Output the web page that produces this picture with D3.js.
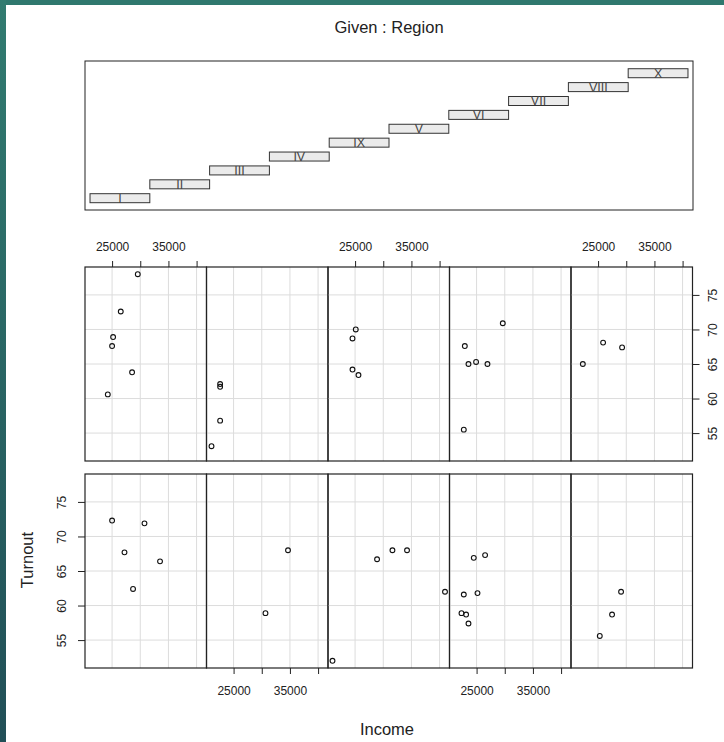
<!DOCTYPE html>
<html>
<head>
<meta charset="utf-8">
<script src="https://cdn.jsdelivr.net/npm/d3@7"></script>
<style>
  body { margin: 0; background: #fff; }
  svg { display: block; }
  text { font-family: "Liberation Sans", Arial, sans-serif; fill: #222; }
</style>
</head>
<body>
<script>
// factor levels, in the (alphabetical) order coplot uses them
const levels = ["I", "II", "III", "IV", "IX", "V", "VI", "VII", "VIII", "X"];

// one entry per observation
const region = [
  "I", "I", "I", "I", "I",
  "II", "II",
  "III", "III", "III", "III", "III",
  "IV", "IV", "IV", "IV", "IV", "IV", "IV",
  "IX", "IX", "IX",
  "V", "V", "V", "V", "V", "V",
  "VI", "VI", "VI", "VI",
  "VII", "VII", "VII", "VII",
  "VIII", "VIII", "VIII", "VIII", "VIII", "VIII",
  "X", "X", "X"
];
const income = [
  25000, 27200, 28720, 30750, 33510,
  30660, 34660,
  20990, 28900, 31630, 34220, 40960,
  22730, 25160, 24500, 26510, 22320, 23140, 23560,
  29080, 27480, 25300,
  29560, 26540, 25180, 25000, 28550, 24240,
  22610, 22610, 22610, 21080,
  25120, 24540, 24540, 25600,
  29650, 22910, 23560, 24910, 26930, 22730,
  25890, 29260, 22290
];
const turnout = [
  72.3, 67.7, 62.4, 71.9, 66.4,
  58.9, 68.0,
  52.0, 66.7, 68.0, 68.0, 62.0,
  61.6, 61.8, 66.9, 67.3, 58.9, 58.7, 57.4,
  62.0, 58.7, 55.6,
  78.0, 72.6, 68.9, 67.6, 63.8, 60.6,
  62.1, 61.7, 56.8, 53.1,
  70.0, 68.7, 64.2, 63.4,
  70.9, 67.6, 65.0, 65.3, 65.0, 55.5,
  68.1, 67.4, 65.0
];

const xTicks = [25000, 30000, 35000, 40000];
const xTickLabels = [25000, 35000];
const yTicks = [55, 60, 65, 70, 75];

const W = 724, H = 742;
const svg = d3.select("body").append("svg").attr("width", W).attr("height", H);

// teal frame at top and left edge
const grad = svg.append("defs").append("linearGradient")
  .attr("id", "teal").attr("x1", 0).attr("y1", 0).attr("x2", 0).attr("y2", 1);
grad.append("stop").attr("offset", "0%").attr("stop-color", "#317b70");
grad.append("stop").attr("offset", "100%").attr("stop-color", "#214f57");
svg.append("rect").attr("x", 0).attr("y", 0).attr("width", W).attr("height", 5).attr("fill", "#2f786e");
svg.append("rect").attr("x", 0).attr("y", 0).attr("width", 6).attr("height", H).attr("fill", "url(#teal)");

// ---- given panel ----
const gBox = { x0: 85, x1: 693, y0: 61, y1: 210 };
const gx = d3.scaleLinear().domain([0.416, 10.584]).range([gBox.x0, gBox.x1]);
const gy = d3.scaleLinear().domain([0.15, 10.88]).range([gBox.y1, gBox.y0]);

svg.append("text").attr("x", 389).attr("y", 33).attr("text-anchor", "middle")
  .attr("font-size", 16.5).text("Given : Region");

svg.append("rect").attr("x", gBox.x0).attr("y", gBox.y0)
  .attr("width", gBox.x1 - gBox.x0).attr("height", gBox.y1 - gBox.y0)
  .attr("fill", "none").attr("stroke", "#222").attr("stroke-width", 1);

const bars = svg.append("g").selectAll("g").data(levels).enter().append("g");
bars.append("rect")
  .attr("x", (d, i) => gx(i + 0.5))
  .attr("y", (d, i) => gy(i + 1) - 4.5)
  .attr("width", (d, i) => gx(i + 1.5) - gx(i + 0.5))
  .attr("height", 9)
  .attr("fill", "#ebebeb").attr("stroke", "#333").attr("stroke-width", 1);
bars.append("text")
  .attr("x", (d, i) => gx(i + 1))
  .attr("y", (d, i) => gy(i + 1) + 4.5)
  .attr("text-anchor", "middle").attr("font-size", 12.5).style("fill", "#444")
  .text(d => d);

// ---- conditioning panels ----
const left = 85, pw = 121.5;
const rowTop = [267, 474], ph = 194;

const xe = d3.extent(income), ye = d3.extent(turnout);
const xpad = (xe[1] - xe[0]) * 0.04, ypad = (ye[1] - ye[0]) * 0.04;
const x = d3.scaleLinear().domain([xe[0] - xpad, xe[1] + xpad]).range([0, pw]);
const y = d3.scaleLinear().domain([ye[0] - ypad, ye[1] + ypad]).range([ph, 0]);

const data = region.map((r, i) => ({ r: r, inc: income[i], t: turnout[i] }));

levels.forEach((lev, k) => {
  const col = k % 5;
  const row = k < 5 ? 1 : 0; // first five levels go to the bottom row
  const px = left + col * pw, py = rowTop[row];
  const g = svg.append("g").attr("transform", `translate(${px},${py})`);

  g.selectAll(".gx").data(xTicks).enter().append("line")
    .attr("x1", d => x(d)).attr("x2", d => x(d)).attr("y1", 0).attr("y2", ph)
    .attr("stroke", "#dcdcdc").attr("stroke-width", 1);
  g.selectAll(".gy").data(yTicks).enter().append("line")
    .attr("y1", d => y(d)).attr("y2", d => y(d)).attr("x1", 0).attr("x2", pw)
    .attr("stroke", "#dcdcdc").attr("stroke-width", 1);

  g.selectAll("circle").data(data.filter(d => d.r === lev)).enter().append("circle")
    .attr("cx", d => x(d.inc)).attr("cy", d => y(d.t)).attr("r", 2.4)
    .attr("fill", "none").attr("stroke", "#111").attr("stroke-width", 1.1);

  g.append("rect").attr("width", pw).attr("height", ph)
    .attr("fill", "none").attr("stroke", "#222").attr("stroke-width", 1.2);

  const fmt = d => xTickLabels.includes(d) ? d : "";

  // x axes: top on odd columns of the top row, bottom on even columns of the bottom row
  if (row === 0 && col % 2 === 0) {
    const ax = g.append("g").call(d3.axisTop(x).tickValues(xTicks).tickFormat(fmt).tickSize(6).tickPadding(10));
    styleAxis(ax);
  }
  if (row === 1 && col % 2 === 1) {
    const ax = g.append("g").attr("transform", `translate(0,${ph})`)
      .call(d3.axisBottom(x).tickValues(xTicks).tickFormat(fmt).tickSize(6).tickPadding(12));
    styleAxis(ax);
  }
  // y axes: right on the top row, left on the bottom row
  if (row === 0 && col === 4) {
    const ay = g.append("g").attr("transform", `translate(${pw},0)`)
      .call(d3.axisRight(y).tickValues(yTicks).tickSize(7));
    styleAxis(ay);
    ay.selectAll("text").attr("x", 0).attr("dy", "0.35em").attr("text-anchor", "middle")
      .attr("transform", "translate(20,0) rotate(-90)");
  }
  if (row === 1 && col === 0) {
    const ay = g.append("g").call(d3.axisLeft(y).tickValues(yTicks).tickSize(7));
    styleAxis(ay);
    ay.selectAll("text").attr("x", 0).attr("dy", "0.35em").attr("text-anchor", "middle")
      .attr("transform", "translate(-23,0) rotate(-90)");
  }
});

function styleAxis(a) {
  a.select(".domain").remove();
  a.selectAll("line").attr("stroke", "#222");
  a.selectAll("text").attr("font-size", 12).style("fill", "#222")
    .style("font-family", '"Liberation Sans", Arial, sans-serif');
}

svg.append("text").attr("x", 387).attr("y", 735).attr("text-anchor", "middle")
  .attr("font-size", 16.5).text("Income");
svg.append("text").attr("transform", "translate(33,560) rotate(-90)")
  .attr("text-anchor", "middle").attr("font-size", 16.5).text("Turnout");
</script>
</body>
</html>
